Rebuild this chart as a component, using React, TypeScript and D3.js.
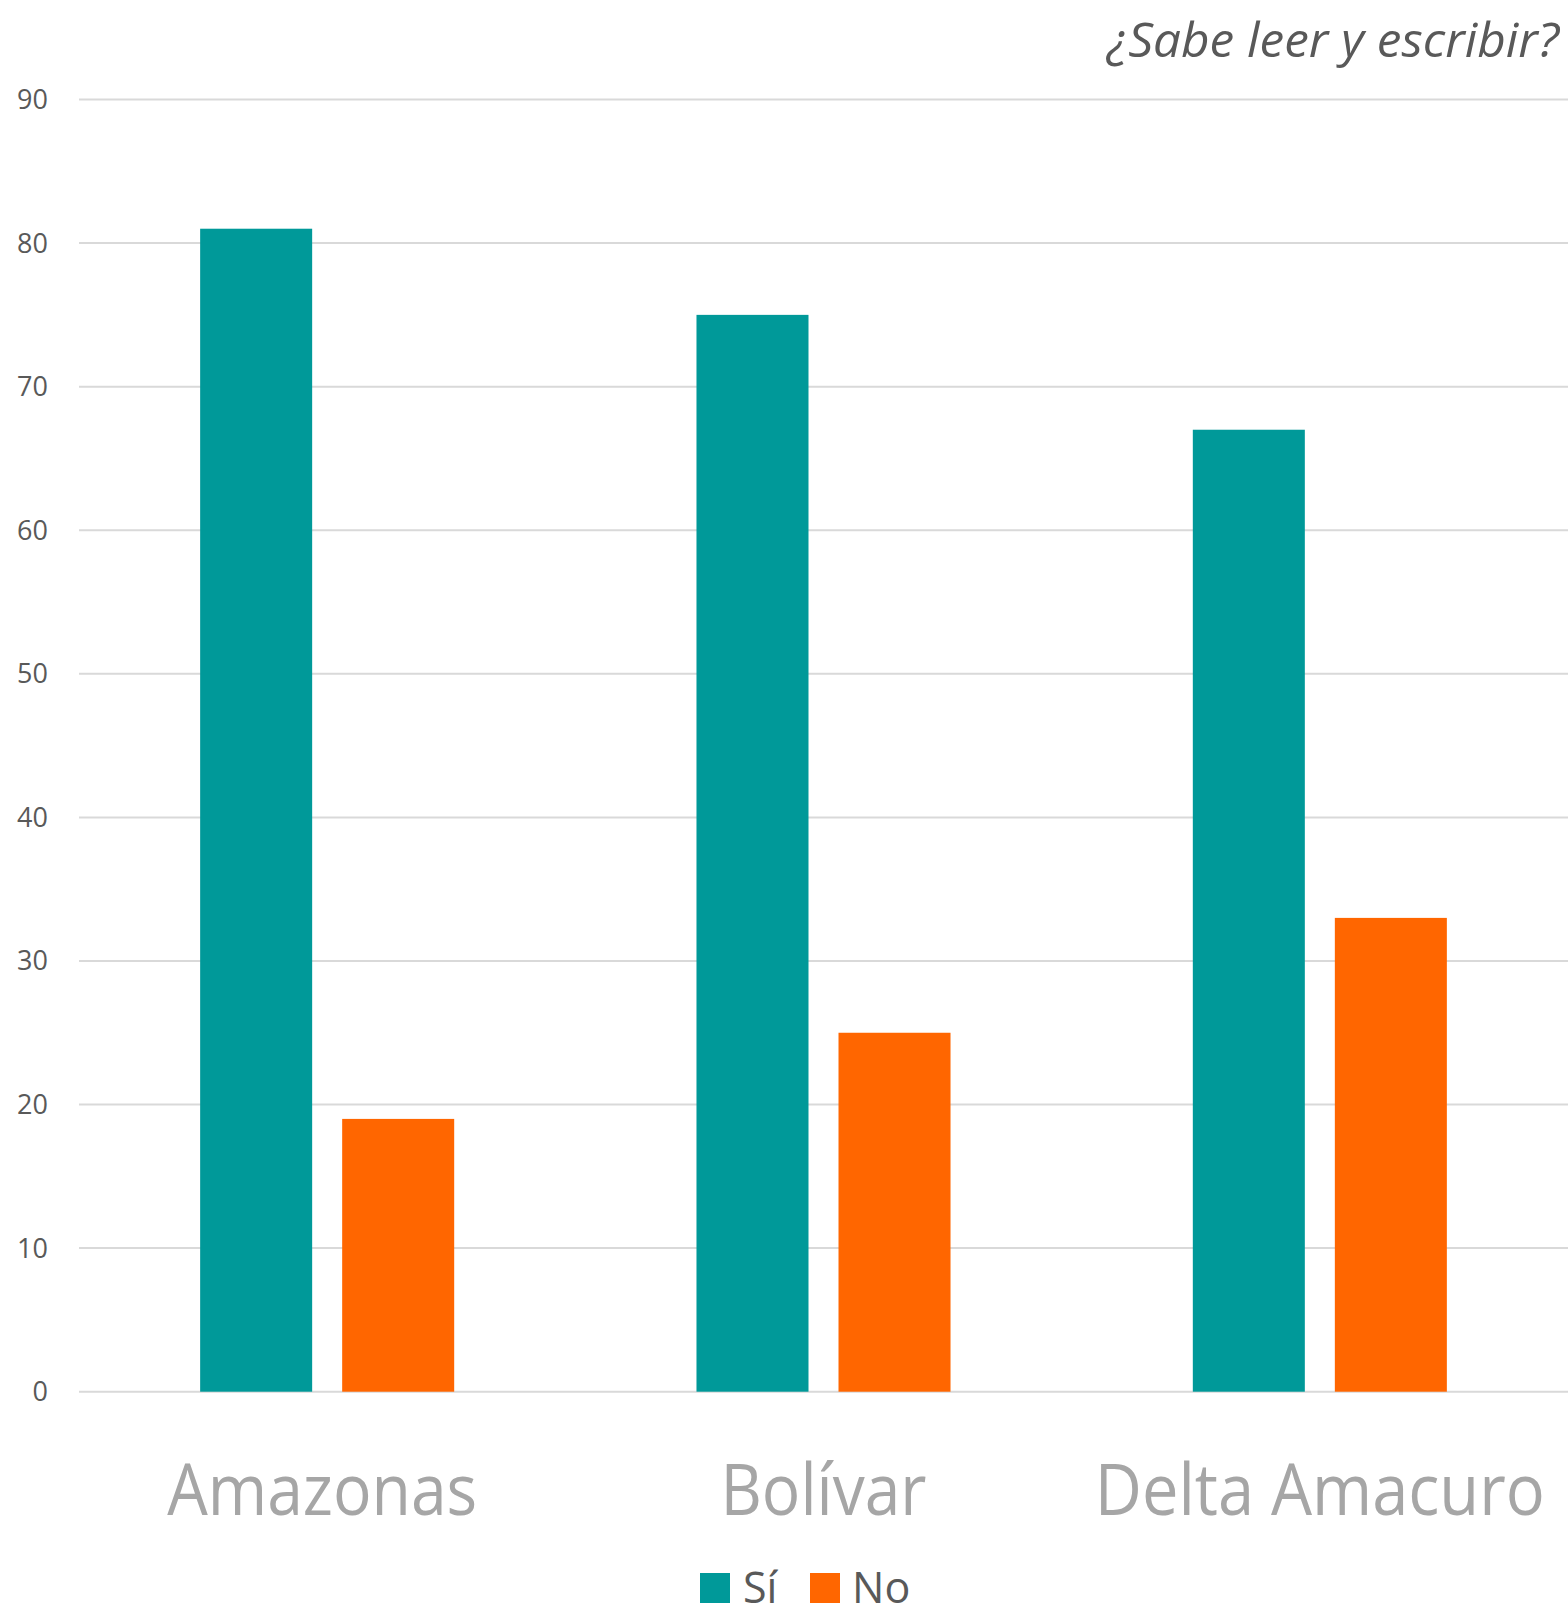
import React from "react";
import * as d3 from "d3";

const categories = ["Amazonas", "Bolívar", "Delta Amacuro"];
const seriesNames = ["Sí", "No"];
const siValues = [81, 75, 67];
const noValues = [19, 25, 33];
const yTicks = [0, 10, 20, 30, 40, 50, 60, 70, 80, 90];
const title = "¿Sabe leer y escribir?";
const colors = ["#009999", "#FF6600"];
const categoryLabelWidths = [310, 206, 450];

const W = 1568;
const H = 1609;

export default function App() {
  const x0 = d3.scaleBand<string>().domain(categories).range([79, 1568]).paddingInner(0).paddingOuter(0);
  const x1 = d3
    .scaleBand<string>()
    .domain(seriesNames)
    .range([0, x0.bandwidth()])
    .paddingInner(0.2113)
    .paddingOuter(0.853);
  const y = d3.scaleLinear().domain([0, 90]).range([1391.7, 99.5]);
  const series = [siValues, noValues];
  const font = "'Open Sans', sans-serif";

  return (
    <svg
      width={W}
      height={H}
      style={{ position: "absolute", left: 0, top: 0, background: "#fff" }}
      xmlns="http://www.w3.org/2000/svg"
    >
      <rect x={0} y={0} width={W} height={H} fill="#fff" />
      {/* title */}
      <text
        x={1559}
        y={57}
        textAnchor="end"
        fontFamily={font}
        fontStyle="italic"
        fontSize={48}
        fill="#595959"
        textLength={452}
        lengthAdjust="spacingAndGlyphs"
      >
        {title}
      </text>
      {/* gridlines */}
      {yTicks.map((t) => (
        <g key={t}>
          <line x1={79} x2={1568} y1={y(t)} y2={y(t)} stroke="#D9D9D9" strokeWidth={2} />
          <text
            x={48}
            y={y(t) + 9.5}
            textAnchor="end"
            fontFamily={font}
            fontSize={27}
            fill="#595959"
          >
            {t}
          </text>
        </g>
      ))}
      {/* bars */}
      {categories.map((c, i) => (
        <g key={c} transform={`translate(${x0(c)},0)`}>
          {seriesNames.map((s, j) => (
            <rect
              key={s}
              x={x1(s)}
              y={y(series[j][i])}
              width={x1.bandwidth()}
              height={y(0) - y(series[j][i])}
              fill={colors[j]}
            />
          ))}
        </g>
      ))}
      {/* category labels */}
      {categories.map((c, i) => (
        <text
          key={c}
          x={(x0(c) as number) + x0.bandwidth() / 2 - (i === 0 ? 5 : 0)}
          y={1515}
          textAnchor="middle"
          fontFamily={font}
          fontSize={72}
          fill="#A6A6A6"
          textLength={categoryLabelWidths[i]}
          lengthAdjust="spacingAndGlyphs"
        >
          {c}
        </text>
      ))}
      {/* legend */}
      <rect x={700} y={1573} width={30} height={30} fill={colors[0]} />
      <text x={743} y={1603} fontFamily={font} fontSize={43} fill="#595959">
        {seriesNames[0]}
      </text>
      <rect x={810} y={1573} width={30} height={30} fill={colors[1]} />
      <text x={852} y={1603} fontFamily={font} fontSize={43} fill="#595959">
        {seriesNames[1]}
      </text>
    </svg>
  );
}
